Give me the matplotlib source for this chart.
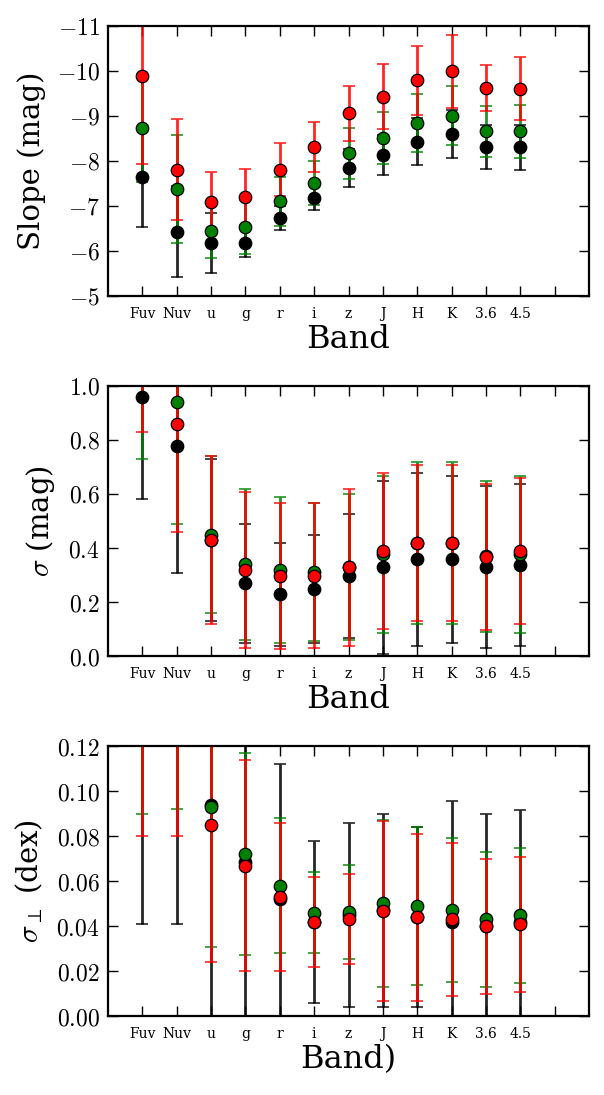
import numpy as np
import matplotlib
matplotlib.use("agg")
import matplotlib.pyplot as plt
from matplotlib.ticker import FuncFormatter

plt.rcParams["font.family"] = ["DejaVu Serif"]
plt.rcParams["mathtext.fontset"] = "cm"

bands = ["Fuv", "Nuv", "u", "g", "r", "i", "z", "J", "H", "K", "3.6", "4.5"]
x = np.arange(1, len(bands) + 1)

# slope panel
slope_black = [-7.64, -6.43, -6.18, -6.18, -6.73, -7.18, -7.84, -8.13, -8.43, -8.60, -8.31, -8.30]
slope_black_err = [1.11, 1.01, 0.66, 0.32, 0.26, 0.28, 0.42, 0.44, 0.52, 0.54, 0.48, 0.51]
slope_green = [-8.73, -7.38, -6.44, -6.53, -7.10, -7.51, -8.17, -8.51, -8.84, -9.01, -8.66, -8.66]
slope_green_err = [1.20, 1.20, 0.60, 0.60, 0.54, 0.49, 0.56, 0.58, 0.65, 0.65, 0.57, 0.59]
slope_red = [-9.88, -7.81, -7.08, -7.20, -7.81, -8.31, -9.06, -9.43, -9.79, -9.99, -9.62, -9.61]
slope_red_err = [1.94, 1.12, 0.68, 0.62, 0.58, 0.56, 0.61, 0.72, 0.77, 0.82, 0.51, 0.71]

# scatter panel (mag)
sig_black = [0.96, 0.778, 0.43, 0.269, 0.228, 0.248, 0.297, 0.328, 0.358, 0.358, 0.328, 0.338]
sig_black_err = [0.38, 0.47, 0.30, 0.22, 0.19, 0.20, 0.23, 0.32, 0.32, 0.31, 0.30, 0.30]
sig_green = [1.05, 0.94, 0.45, 0.34, 0.318, 0.312, 0.33, 0.377, 0.418, 0.418, 0.369, 0.377]
sig_green_err = [0.32, 0.45, 0.29, 0.28, 0.27, 0.255, 0.27, 0.29, 0.30, 0.30, 0.28, 0.29]
sig_red = [1.10, 0.859, 0.43, 0.319, 0.297, 0.298, 0.328, 0.389, 0.418, 0.418, 0.368, 0.389]
sig_red_err = [0.27, 0.40, 0.31, 0.29, 0.27, 0.27, 0.29, 0.29, 0.29, 0.29, 0.27, 0.27]

# perpendicular scatter panel (dex)
perp_black = [0.15, 0.15, 0.094, 0.0686, 0.052, 0.042, 0.045, 0.047, 0.044, 0.0416, 0.040, 0.0416]
perp_black_err = [0.109, 0.109, 0.10, 0.075, 0.060, 0.036, 0.041, 0.043, 0.040, 0.054, 0.050, 0.050]
perp_green = [0.16, 0.16, 0.0929, 0.072, 0.0579, 0.0459, 0.0462, 0.0501, 0.0489, 0.047, 0.0431, 0.0449]
perp_green_err = [0.070, 0.068, 0.062, 0.045, 0.030, 0.018, 0.021, 0.037, 0.035, 0.032, 0.030, 0.030]
perp_red = [0.16, 0.16, 0.0848, 0.0668, 0.053, 0.0418, 0.043, 0.0468, 0.0439, 0.043, 0.0399, 0.0409]
perp_red_err = [0.080, 0.080, 0.061, 0.047, 0.033, 0.020, 0.020, 0.040, 0.037, 0.034, 0.030, 0.030]

fig = plt.figure(figsize=(6.04, 10.95), dpi=100)
left, width, height = 0.1788, 0.7964, 0.2466
bottoms = [0.7297, 0.4009, 0.0721]

panels = [
    ([(slope_black, slope_black_err, "black"),
      (slope_green, slope_green_err, "green"),
      (slope_red, slope_red_err, "red")],
     (-5, -11), np.arange(-11, -4), lambda v, p: r"$%d$" % v, "Slope (mag)", "Band"),
    ([(sig_black, sig_black_err, "black"),
      (sig_green, sig_green_err, "green"),
      (sig_red, sig_red_err, "red")],
     (0, 1.0), np.arange(0, 1.01, 0.2), lambda v, p: r"$%.1f$" % v, r"$\sigma$ (mag)", "Band"),
    ([(perp_black, perp_black_err, "black"),
      (perp_green, perp_green_err, "green"),
      (perp_red, perp_red_err, "red")],
     (0, 0.12), np.arange(0, 0.121, 0.02), lambda v, p: r"$%.2f$" % v, r"$\sigma_\perp$ (dex)", "Band)"),
]

for b, (series, ylim, yticks, fmt, ylab, xlab) in zip(bottoms, panels):
    ax = fig.add_axes([left, b, width, height])
    # error bars first, then the markers on top
    for vals, errs, c in series:
        ax.errorbar(x, vals, yerr=errs, fmt="none", ecolor=c, elinewidth=2,
                    capsize=4, capthick=1.2, alpha=0.85)
    for vals, errs, c in series:
        ax.plot(x, vals, "o", color=c, markersize=9, markeredgecolor="black",
                markeredgewidth=0.9)
    ax.set_xlim(0, 14)
    ax.set_ylim(*ylim)
    ax.set_yticks(yticks)
    ax.yaxis.set_major_formatter(FuncFormatter(fmt))
    ax.set_xticks(np.arange(1, 14))
    ax.set_xticklabels(bands + [""], fontsize=10)
    ax.tick_params(direction="in", top=True, right=True, length=7, width=1)
    ax.tick_params(axis="y", labelsize=17, pad=6)
    ax.tick_params(axis="x", pad=8)
    for s in ax.spines.values():
        s.set_linewidth(1.6)
    ax.set_ylabel(ylab, fontsize=21, labelpad=8)
    ax.set_xlabel(xlab, fontsize=23, labelpad=2)

fig.savefig("out.png", dpi=100)
